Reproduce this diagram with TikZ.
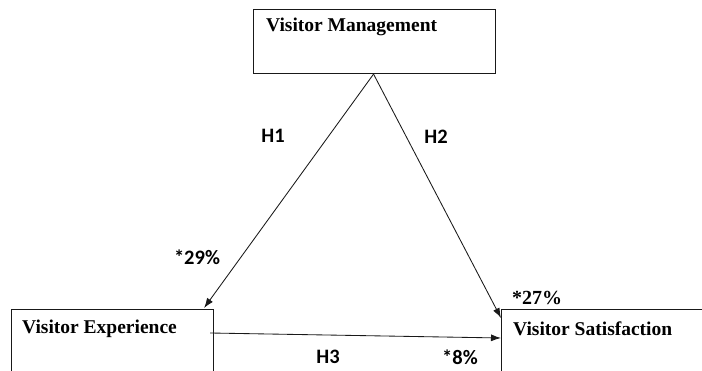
\documentclass[tikz,border=0pt]{standalone}
\usepackage{fontspec}
\setmainfont{Liberation Serif}
\newfontfamily\lblfont{Carlito}
\usetikzlibrary{arrows.meta,calc}
\begin{document}
\begin{tikzpicture}[x=1pt,y=-1pt,
  box/.style={draw=black!90,line width=1.1pt,rectangle,inner sep=0pt,anchor=north west},
  boxtext/.style={anchor=west,inner sep=0pt,font=\fontsize{19.5}{22}\selectfont\bfseries},
  hlabel/.style={inner sep=0pt,font=\lblfont\fontsize{20.5}{22}\selectfont\bfseries},
  plabel/.style={inner sep=0pt,font=\fontsize{20}{22}\selectfont\bfseries},
  conn/.style={draw=black!90,line width=0.85pt,-{Latex[length=10pt,width=7pt]}}]
\clip (0,0) rectangle (702,371);
\fill[white] (0,0) rectangle (702,371);
% boxes
\node[box,minimum width=242pt,minimum height=64pt] (VM) at (253,9) {};
\node[box,minimum width=202pt,minimum height=100pt] (VE) at (11,309) {};
\node[box,minimum width=230pt,minimum height=100pt] (VS) at (501,309) {};
% box texts
\node[boxtext] (VMt) at (266,27) {Visitor Management};
\node[boxtext] (VEt) at (22,329) {Visitor Experience};
\node[boxtext] (VSt) at (513,329) {Visitor Satisfaction};
% connector end points
\coordinate (a1) at ($(VE.north east)+(-10,-1)$);
\coordinate (a2) at ($(VS.north west)+(0,9)$);
\coordinate (s3) at ($(VE.north east)+(-4,24)$);
\coordinate (a3) at ($(VS.north west)+(0,29)$);
\coordinate (top) at ($(VM.south)+(-1,0)$);
% connectors
\draw[conn] (top) -- (a1);
\draw[conn] (top) -- (a2);
\draw[conn] (s3) -- (a3);
% labels
\node[hlabel] (H1) at (273,136) {H1};
\node[hlabel] (H2) at (436,137) {H2};
\node[hlabel] (H3) at (328,357) {H3};
\node[hlabel] (p29) at (197,257) {*29\%};
\node[hlabel] (p8) at (460,357) {*8\%};
\node[plabel] (p27) at (537,298) {*27\%};
\end{tikzpicture}
\end{document}
